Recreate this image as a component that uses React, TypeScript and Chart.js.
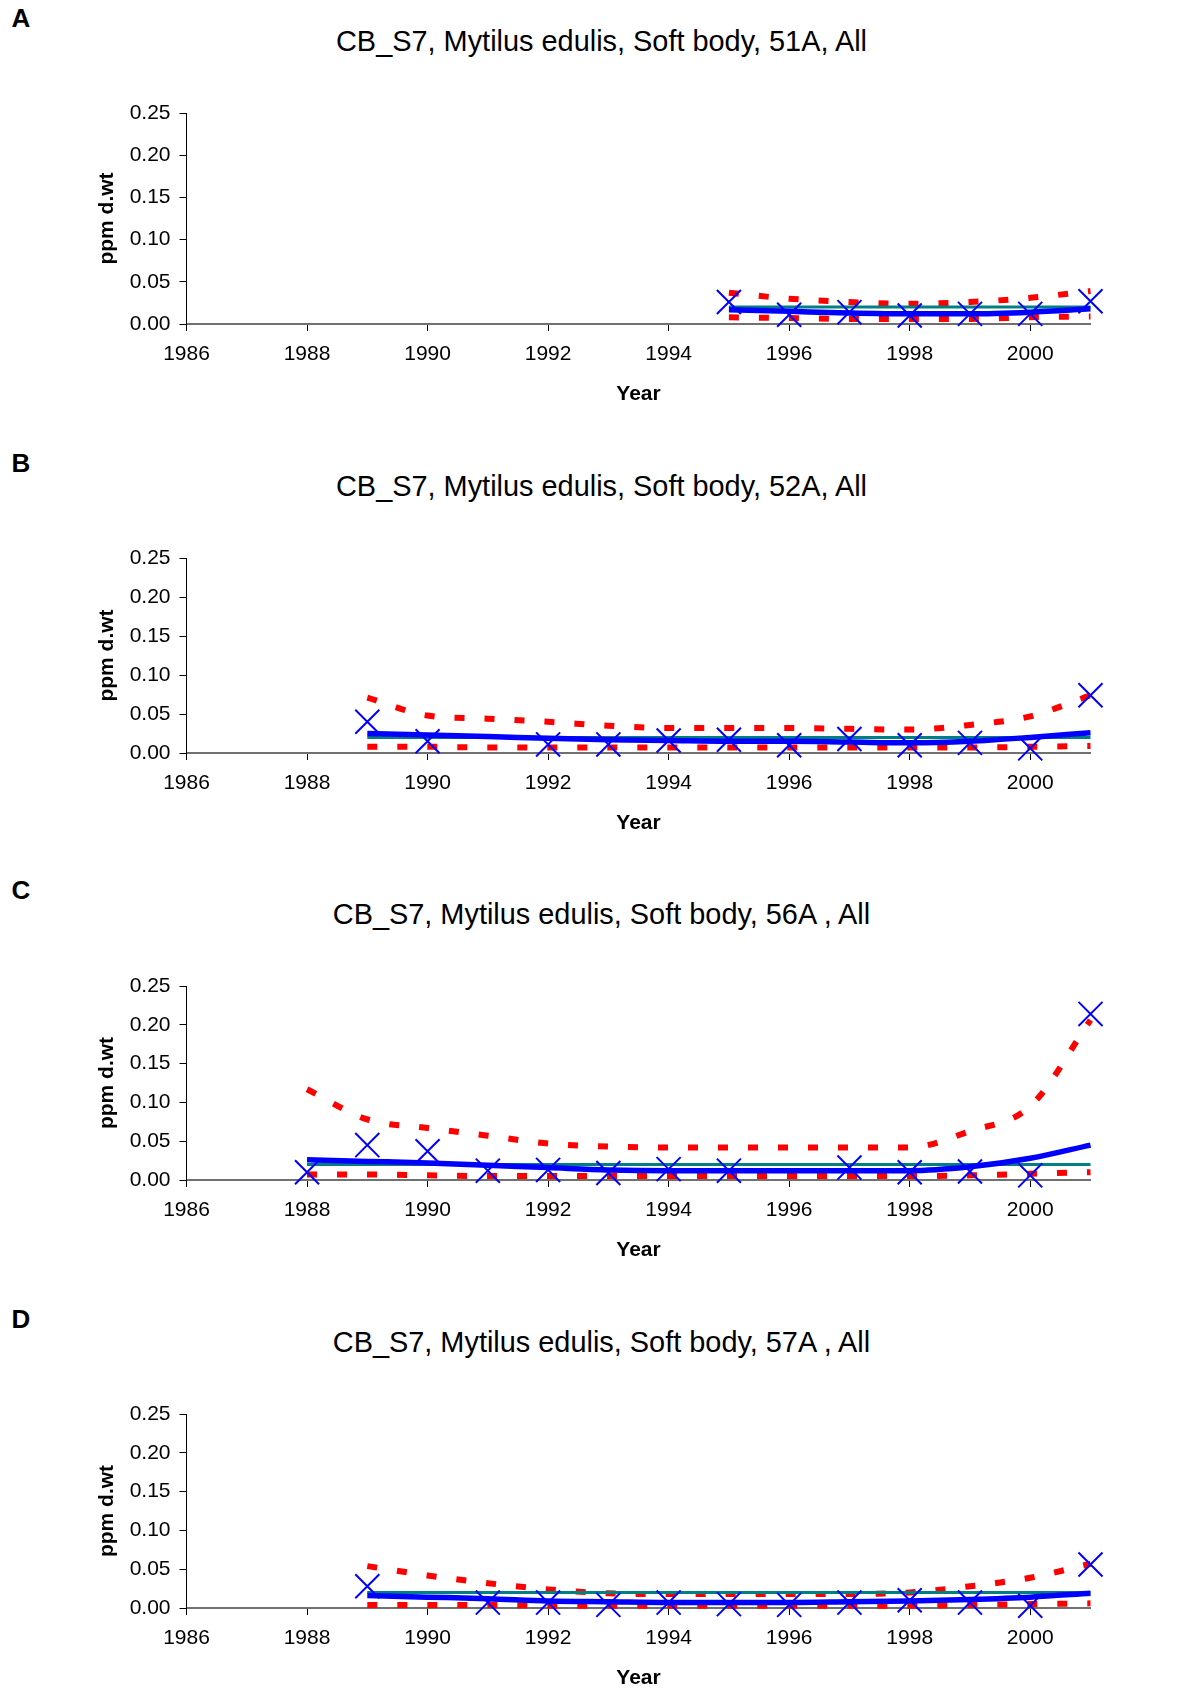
import React, { useEffect, useRef } from "react";
import { Chart, registerables } from "chart.js";

Chart.register(...registerables);

// ---------- shared axis values ----------
const xMin = 1986;
const xMax = 2001;
const xStep = 2;
const yMin = 0;
const yMax = 0.25;
const yStep = 0.05;
const xTitle = "Year";
const yTitle = "ppm d.wt";

// ---------- Panel A ----------
const titleA = "CB_S7, Mytilus edulis, Soft body, 51A, All";
const obsYearsA = [1995, 1996, 1997, 1998, 1999, 2000, 2001];
const obsA = [0.026, 0.011, 0.014, 0.010, 0.012, 0.012, 0.027];
const lineYearsA = [1995, 1996, 1997, 1998, 1999, 2000, 2001];
const trendA = [0.017, 0.015, 0.013, 0.012, 0.012, 0.014, 0.018];
const upperA = [0.037, 0.030, 0.026, 0.024, 0.026, 0.031, 0.039];
const lowerA = [0.008, 0.007, 0.006, 0.006, 0.006, 0.008, 0.009];
const meanA = 0.020;

// ---------- Panel B ----------
const titleB = "CB_S7, Mytilus edulis, Soft body, 52A, All";
const obsYearsB = [1989, 1990, 1992, 1993, 1994, 1995, 1996, 1997, 1998, 1999, 2000, 2001];
const obsB = [0.040, 0.015, 0.011, 0.011, 0.016, 0.017, 0.010, 0.018, 0.010, 0.013, 0.006, 0.074];
const lineYearsB = [1989, 1990, 1991, 1992, 1993, 1994, 1995, 1996, 1997, 1998, 1999, 2000, 2001];
const trendB = [0.025, 0.023, 0.021, 0.019, 0.017, 0.016, 0.015, 0.015, 0.014, 0.013, 0.015, 0.020, 0.026];
const upperB = [0.071, 0.048, 0.044, 0.040, 0.035, 0.032, 0.032, 0.032, 0.031, 0.030, 0.036, 0.047, 0.074];
const lowerB = [0.008, 0.008, 0.007, 0.007, 0.007, 0.007, 0.007, 0.007, 0.007, 0.007, 0.007, 0.008, 0.009];
const meanB = 0.020;

// ---------- Panel C ----------
const titleC = "CB_S7, Mytilus edulis, Soft body, 56A , All";
const obsYearsC = [1988, 1989, 1990, 1991, 1992, 1993, 1994, 1995, 1997, 1998, 1999, 2000, 2001];
const obsC = [0.010, 0.045, 0.037, 0.012, 0.013, 0.009, 0.014, 0.012, 0.016, 0.010, 0.011, 0.006, 0.214];
const lineYearsC = [1988, 1989, 1990, 1991, 1992, 1993, 1994, 1995, 1996, 1997, 1998, 1999, 2000, 2001];
const trendC = [0.026, 0.024, 0.022, 0.019, 0.016, 0.013, 0.012, 0.012, 0.012, 0.012, 0.012, 0.017, 0.028, 0.045];
const upperC = [0.117, 0.078, 0.067, 0.057, 0.047, 0.043, 0.042, 0.042, 0.042, 0.042, 0.042, 0.063, 0.095, 0.206];
const lowerC = [0.007, 0.007, 0.006, 0.005, 0.005, 0.005, 0.005, 0.005, 0.005, 0.005, 0.005, 0.006, 0.008, 0.010];
const meanC = 0.020;

// ---------- Panel D ----------
const titleD = "CB_S7, Mytilus edulis, Soft body, 57A , All";
const obsYearsD = [1989, 1991, 1992, 1993, 1994, 1995, 1996, 1997, 1998, 1999, 2000, 2001];
const obsD = [0.028, 0.007, 0.007, 0.004, 0.007, 0.005, 0.004, 0.007, 0.010, 0.007, 0.003, 0.056];
const lineYearsD = [1989, 1990, 1991, 1992, 1993, 1994, 1995, 1996, 1997, 1998, 1999, 2000, 2001];
const trendD = [0.016, 0.014, 0.012, 0.009, 0.008, 0.007, 0.007, 0.007, 0.008, 0.009, 0.011, 0.014, 0.019];
const upperD = [0.054, 0.042, 0.032, 0.024, 0.019, 0.018, 0.018, 0.018, 0.018, 0.020, 0.028, 0.039, 0.057];
const lowerD = [0.004, 0.004, 0.004, 0.003, 0.003, 0.003, 0.003, 0.003, 0.003, 0.003, 0.004, 0.005, 0.006];
const meanD = 0.020;

// ---------- styling ----------
const FONT = "'Liberation Sans', Arial, Helvetica, sans-serif";
const BLUE = "#0000FF";
const RED = "#FF0000";
const TEAL = "#008080";
const PAGE_W = 1203;
const AXIS_LEFT = 186.5;
const AXIS_RIGHT_PAD = 112.5;
const X_AXIS_H = 90;

type PanelProps = {
  letter: string;
  title: string;
  letterY: number;
  titleY: number;
  chartTop: number;
  chartBottom: number;
  obsYears: number[];
  obs: number[];
  lineYears: number[];
  trend: number[];
  upper: number[];
  lower: number[];
  mean: number;
};

function pts(xs: number[], ys: number[]) {
  return xs.map((x, i) => ({ x, y: ys[i] }));
}

function Panel(p: PanelProps) {
  const ref = useRef<HTMLCanvasElement | null>(null);
  const canvasTop = p.chartTop - 30;
  const height = Math.round(p.chartBottom + X_AXIS_H - canvasTop);

  useEffect(() => {
    if (!ref.current) return;
    const first = p.lineYears[0];
    const last = p.lineYears[p.lineYears.length - 1];
    const chart = new Chart(ref.current, {
      type: "line",
      data: {
        datasets: [
          {
            label: "observed",
            data: pts(p.obsYears, p.obs),
            showLine: false,
            pointStyle: "crossRot",
            pointRadius: 17,
            pointBorderWidth: 2,
            pointBorderColor: BLUE,
            pointBackgroundColor: "rgba(0,0,0,0)",
            borderColor: BLUE,
            order: 0,
            clip: false,
          } as any,
          {
            label: "trend",
            data: pts(p.lineYears, p.trend),
            borderColor: BLUE,
            borderWidth: 5.5,
            pointRadius: 0,
            cubicInterpolationMode: "monotone",
            order: 1,
            clip: false,
          },
          {
            label: "mean",
            data: [
              { x: first, y: p.mean },
              { x: last, y: p.mean },
            ],
            borderColor: TEAL,
            borderWidth: 3,
            pointRadius: 0,
            order: 2,
            clip: false,
          },
          {
            label: "upper",
            data: pts(p.lineYears, p.upper),
            borderColor: RED,
            borderWidth: 6,
            borderDash: [10, 20],
            borderCapStyle: "butt",
            pointRadius: 0,
            cubicInterpolationMode: "monotone",
            order: 3,
            clip: false,
          },
          {
            label: "lower",
            data: pts(p.lineYears, p.lower),
            borderColor: RED,
            borderWidth: 6,
            borderDash: [10, 20],
            borderCapStyle: "butt",
            pointRadius: 0,
            cubicInterpolationMode: "monotone",
            order: 4,
            clip: false,
          },
        ],
      },
      options: {
        animation: false,
        responsive: false,
        events: [],
        layout: {
          padding: { left: 0, right: AXIS_RIGHT_PAD, top: p.chartTop - canvasTop, bottom: 0 },
        },
        plugins: {
          legend: { display: false },
          tooltip: { enabled: false },
          title: { display: false },
        },
        scales: {
          x: {
            type: "linear",
            min: xMin,
            max: xMax,
            ticks: {
              stepSize: xStep,
              includeBounds: false,
              autoSkip: false,
              maxRotation: 0,
              padding: 10.5,
              color: "#000",
              font: { family: FONT, size: 21 },
              callback: (v: any) => String(v),
            },
            grid: {
              display: true,
              drawOnChartArea: false,
              drawTicks: true,
              tickLength: 7,
              color: "#000",
              lineWidth: 1,
            },
            border: { display: true, color: "#707070", width: 2 },
            title: {
              display: true,
              text: xTitle,
              color: "#000",
              font: { family: FONT, size: 21, weight: "bold" },
              padding: { top: 0, bottom: 7 },
            },
            afterFit: (s: any) => {
              s.height = X_AXIS_H;
            },
          },
          y: {
            type: "linear",
            min: yMin,
            max: yMax,
            ticks: {
              stepSize: yStep,
              padding: 9,
              color: "#000",
              font: { family: FONT, size: 21 },
              callback: (v: any) => Number(v).toFixed(2),
            },
            grid: {
              display: true,
              drawOnChartArea: false,
              drawTicks: true,
              tickLength: 7,
              color: "#000",
              lineWidth: 1,
            },
            border: { display: true, color: "#000", width: 1 },
            title: {
              display: true,
              text: yTitle,
              color: "#000",
              font: { family: FONT, size: 21, weight: "bold" },
              padding: { top: 95, bottom: 0 },
            },
            afterFit: (s: any) => {
              s.width = AXIS_LEFT;
            },
          },
        },
      } as any,
    });
    return () => chart.destroy();
  }, []);

  return (
    <>
      <div
        style={{
          position: "absolute",
          left: 1,
          top: p.letterY - 16,
          width: 40,
          textAlign: "center",
          fontFamily: FONT,
          fontWeight: "bold",
          fontSize: 26,
          lineHeight: "32px",
          color: "#000",
        }}
      >
        {p.letter}
      </div>
      <div
        style={{
          position: "absolute",
          left: 0,
          top: p.titleY - 17,
          width: PAGE_W,
          textAlign: "center",
          fontFamily: FONT,
          fontSize: 28.9,
          lineHeight: "34px",
          color: "#000",
          whiteSpace: "pre",
        }}
      >
        {p.title}
      </div>
      <canvas
        ref={ref}
        width={PAGE_W}
        height={height}
        style={{ position: "absolute", left: 0, top: canvasTop, width: PAGE_W, height }}
      />
    </>
  );
}

export default function App() {
  useEffect(() => {
    document.body.style.margin = "0";
    document.body.style.background = "#fff";
  }, []);
  return (
    <div style={{ position: "absolute", left: 0, top: 0, width: PAGE_W, height: 1690, background: "#fff", overflow: "hidden" }}>
      <Panel letter="A" title={titleA} letterY={18} titleY={41} chartTop={113} chartBottom={324}
        obsYears={obsYearsA} obs={obsA} lineYears={lineYearsA} trend={trendA} upper={upperA} lower={lowerA} mean={meanA} />
      <Panel letter="B" title={titleB} letterY={463} titleY={486} chartTop={558} chartBottom={752.5}
        obsYears={obsYearsB} obs={obsB} lineYears={lineYearsB} trend={trendB} upper={upperB} lower={lowerB} mean={meanB} />
      <Panel letter="C" title={titleC} letterY={890} titleY={914} chartTop={986} chartBottom={1180}
        obsYears={obsYearsC} obs={obsC} lineYears={lineYearsC} trend={trendC} upper={upperC} lower={lowerC} mean={meanC} />
      <Panel letter="D" title={titleD} letterY={1319} titleY={1342} chartTop={1414} chartBottom={1608}
        obsYears={obsYearsD} obs={obsD} lineYears={lineYearsD} trend={trendD} upper={upperD} lower={lowerD} mean={meanD} />
    </div>
  );
}
